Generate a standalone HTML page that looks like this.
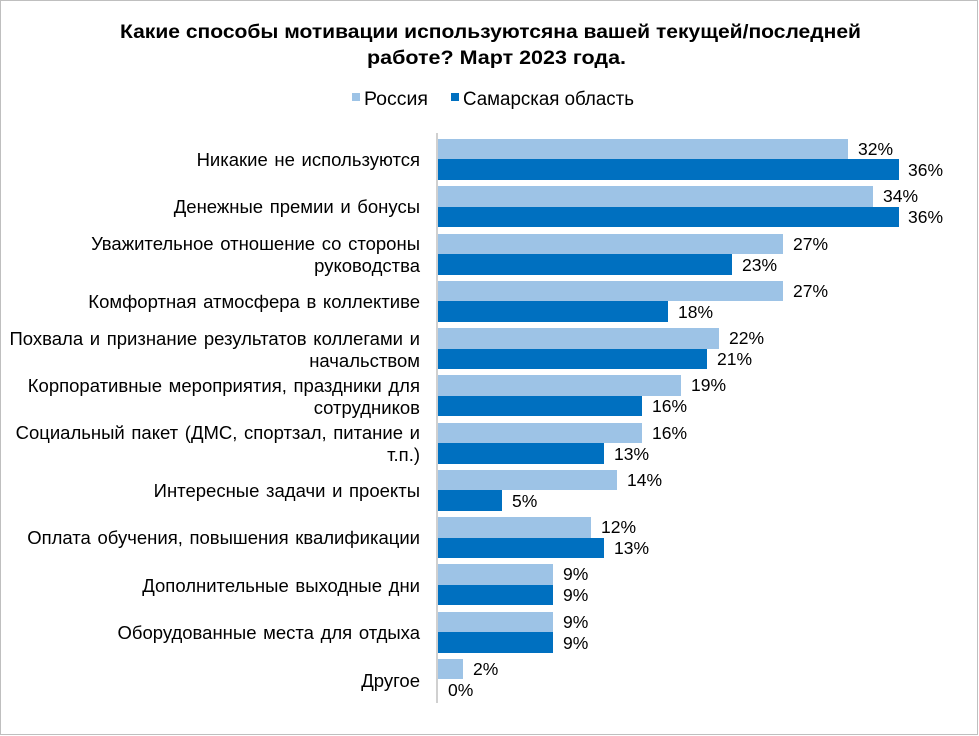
<!DOCTYPE html>
<html><head><meta charset="utf-8"><style>
body{margin:0;background:#fff}
svg{display:block;font-family:"Liberation Sans",Arial,sans-serif}
.c{font-size:18.5px;word-spacing:1.5px}
.v{font-size:17.5px}
</style></head><body>
<svg width="979" height="736" viewBox="0 0 979 736">
<rect x="0.5" y="0.5" width="977" height="734" fill="#fff" stroke="#bfbfbf" stroke-width="1"/>
<text x="120" y="38" font-size="19.5" font-weight="bold" textLength="741" lengthAdjust="spacingAndGlyphs">Какие способы мотивации используютсяна вашей текущей/последней</text>
<text x="367" y="64" font-size="19.5" font-weight="bold" textLength="259" lengthAdjust="spacingAndGlyphs">работе? Март 2023 года.</text>
<rect x="352" y="93" width="8" height="8" fill="#9dc3e6"/>
<text x="364" y="105" font-size="19" textLength="64" lengthAdjust="spacingAndGlyphs">Россия</text>
<rect x="451" y="93" width="8" height="8" fill="#0070c0"/>
<text x="463" y="105" font-size="19" textLength="171" lengthAdjust="spacingAndGlyphs">Самарская область</text>
<line x1="437" y1="133" x2="437" y2="703" stroke="#d0d0d0" stroke-width="2"/>
<g fill="#000">
<rect x="438" y="139" width="410" height="20" fill="#9dc3e6"/><rect x="438" y="159" width="461" height="21" fill="#0070c0"/>
<text class="v" x="858" y="155">32%</text><text class="v" x="908" y="176">36%</text>
<text class="c" x="420" y="166" text-anchor="end">Никакие не используются</text>

<rect x="438" y="186" width="435" height="21" fill="#9dc3e6"/><rect x="438" y="207" width="461" height="20" fill="#0070c0"/>
<text class="v" x="883" y="202">34%</text><text class="v" x="908" y="223">36%</text>
<text class="c" x="420" y="213" text-anchor="end">Денежные премии и бонусы</text>

<rect x="438" y="234" width="345" height="20" fill="#9dc3e6"/><rect x="438" y="254" width="294" height="21" fill="#0070c0"/>
<text class="v" x="793" y="250">27%</text><text class="v" x="742" y="271">23%</text>
<text class="c" x="420" y="250" text-anchor="end">Уважительное отношение со стороны</text>
<text class="c" x="420" y="272" text-anchor="end">руководства</text>

<rect x="438" y="281" width="345" height="20" fill="#9dc3e6"/><rect x="438" y="301" width="230" height="21" fill="#0070c0"/>
<text class="v" x="793" y="297">27%</text><text class="v" x="678" y="318">18%</text>
<text class="c" x="420" y="308" text-anchor="end">Комфортная атмосфера в коллективе</text>

<rect x="438" y="328" width="281" height="21" fill="#9dc3e6"/><rect x="438" y="349" width="269" height="20" fill="#0070c0"/>
<text class="v" x="729" y="344">22%</text><text class="v" x="717" y="365">21%</text>
<text class="c" x="420" y="345" text-anchor="end">Похвала и признание результатов коллегами и</text>
<text class="c" x="420" y="367" text-anchor="end">начальством</text>

<rect x="438" y="375" width="243" height="21" fill="#9dc3e6"/><rect x="438" y="396" width="204" height="20" fill="#0070c0"/>
<text class="v" x="691" y="391">19%</text><text class="v" x="652" y="412">16%</text>
<text class="c" x="420" y="392" text-anchor="end">Корпоративные мероприятия, праздники для</text>
<text class="c" x="420" y="414" text-anchor="end">сотрудников</text>

<rect x="438" y="423" width="204" height="20" fill="#9dc3e6"/><rect x="438" y="443" width="166" height="21" fill="#0070c0"/>
<text class="v" x="652" y="439">16%</text><text class="v" x="614" y="460">13%</text>
<text class="c" x="420" y="439" text-anchor="end">Социальный пакет (ДМС, спортзал, питание и</text>
<text class="c" x="420" y="461" text-anchor="end">т.п.)</text>

<rect x="438" y="470" width="179" height="20" fill="#9dc3e6"/><rect x="438" y="490" width="64" height="21" fill="#0070c0"/>
<text class="v" x="627" y="486">14%</text><text class="v" x="512" y="507">5%</text>
<text class="c" x="420" y="497" text-anchor="end">Интересные задачи и проекты</text>

<rect x="438" y="517" width="153" height="21" fill="#9dc3e6"/><rect x="438" y="538" width="166" height="20" fill="#0070c0"/>
<text class="v" x="601" y="533">12%</text><text class="v" x="614" y="554">13%</text>
<text class="c" x="420" y="544" text-anchor="end">Оплата обучения, повышения квалификации</text>

<rect x="438" y="564" width="115" height="21" fill="#9dc3e6"/><rect x="438" y="585" width="115" height="20" fill="#0070c0"/>
<text class="v" x="563" y="580">9%</text><text class="v" x="563" y="601">9%</text>
<text class="c" x="420" y="592" text-anchor="end">Дополнительные выходные дни</text>

<rect x="438" y="612" width="115" height="20" fill="#9dc3e6"/><rect x="438" y="632" width="115" height="21" fill="#0070c0"/>
<text class="v" x="563" y="628">9%</text><text class="v" x="563" y="649">9%</text>
<text class="c" x="420" y="639" text-anchor="end">Оборудованные места для отдыха</text>

<rect x="438" y="659" width="25" height="20" fill="#9dc3e6"/>
<text class="v" x="473" y="675">2%</text><text class="v" x="448" y="696">0%</text>
<text class="c" x="420" y="687" text-anchor="end">Другое</text>
</g>
</svg>
</body></html>
